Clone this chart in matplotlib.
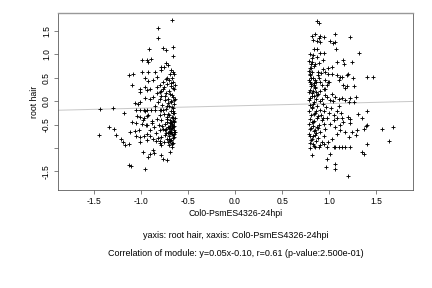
import matplotlib
matplotlib.use("Agg")
import matplotlib.pyplot as plt

plt.rcParams['font.family'] = ['Liberation Sans', 'DejaVu Sans']

# left cluster
left_x = [-0.67, -0.82, -0.82, -0.91, -0.76, -0.73, -0.66, -0.66, -0.99, -0.93, -0.89, -0.92,
          -0.73, -0.71, -0.78, -0.79, -0.75, -0.68, -0.66, -1.13, -1.08, -0.99, -0.92, -0.85,
          -0.96, -0.92, -0.87, -0.83, -1.09, -1.01, -1.01, -0.95, -0.93, -0.90, -0.83, -0.80,
          -0.76, -0.80, -0.83, -1.06, -1.03, -1.01, -0.95, -0.90, -0.87, -1.43, -1.29, -1.18,
          -1.05, -1.01, -0.97, -0.93, -0.89, -0.85, -0.80, -0.76, -1.04, -1.01, -0.97, -0.93,
          -1.09, -1.05, -0.99, -0.93, -0.88, -1.34, -1.28, -1.44, -1.26, -1.21, -1.19, -1.17,
          -1.13, -1.11, -1.06, -1.02, -1.05, -1.01, -0.97, -0.93, -1.01, -0.93, -0.90, -0.98,
          -0.90, -0.92, -0.87, -0.86, -1.13, -1.10, -0.95, -0.78, -0.76, -0.72, -0.69, -0.84,
          -0.80, -0.78, -0.69, -0.67,
          -0.65, -0.67, -0.70, -0.66, -0.72, -0.68, -0.75, -0.65, -0.70, -0.73, -0.67, -0.78,
          -0.66, -0.71, -0.74, -0.68, -0.65, -0.77, -0.70, -0.66, -0.73, -0.68, -0.65, -0.75,
          -0.70, -0.67, -0.72, -0.78, -0.66, -0.69, -0.74, -0.65, -0.71, -0.67, -0.76, -0.69,
          -0.65, -0.73, -0.67, -0.70, -0.78, -0.66, -0.72, -0.68, -0.75, -0.66, -0.70, -0.67,
          -0.80, -0.82, -0.85, -0.80, -0.83, -0.88, -0.81, -0.86, -0.80, -0.84, -0.90, -0.82,
          -0.87, -0.80, -0.94, -0.98, -0.92, -0.96, -0.64, -0.64, -0.64, -0.64, -0.69, -0.72,
          -0.76, -0.78, -0.79, -0.77, -0.74, -0.71, -0.68, -0.66, -0.69, -0.72, -0.74,
          -0.66, -0.68, -0.70, -0.65, -0.67, -0.71, -0.66, -0.69, -0.73, -0.65, -0.68, -0.70,
          -0.66, -0.72, -0.67, -0.65, -0.69, -0.71, -0.66, -0.68, -0.73, -0.65, -0.70, -0.67,
          -0.66, -0.69, -0.72, -0.65, -0.68, -0.70, -0.67, -0.74, -0.66, -0.71, -0.69, -0.65]
left_y = [1.73, 1.56, 1.34, 1.11, 1.13, 1.09, 1.16, 0.96, 0.88, 0.88, 0.91, 0.84,
          0.82, 0.78, 0.72, 0.67, 0.74, 0.67, 0.63, 0.56, 0.58, 0.63, 0.63, 0.63,
          0.49, 0.44, 0.45, 0.52, 0.34, 0.27, 0.20, 0.30, 0.24, 0.25, 0.30, 0.34,
          0.27, 0.20, 0.17, -0.04, -0.05, -0.01, 0.07, 0.05, 0.09, -0.17, -0.14, -0.26,
          -0.19, -0.19, -0.19, -0.19, -0.19, -0.19, -0.19, -0.19, -0.31, -0.33, -0.35, -0.31,
          -0.45, -0.47, -0.48, -0.50, -0.47, -0.56, -0.60, -0.73, -0.73, -0.80, -0.87, -0.94,
          -0.91, -0.66, -0.64, -0.62, -0.75, -0.76, -0.75, -0.71, -0.87, -0.84, -0.75, -1.09,
          -1.13, -1.19, -1.05, -1.11, -1.37, -1.39, -1.46, -1.16, -1.23, -1.26, -1.09, -0.86,
          -0.89, -0.94, -0.86, -0.90,
          0.58, 0.50, 0.45, 0.40, 0.36, 0.32, 0.30, 0.26, 0.22, 0.18, 0.14, 0.12,
          0.08, 0.05, 0.02, -0.02, -0.05, -0.08, -0.10, -0.14, -0.17, -0.22, -0.25, -0.28,
          -0.30, -0.34, -0.38, -0.40, -0.42, -0.46, -0.48, -0.52, -0.55, -0.58, -0.60, -0.63,
          -0.66, -0.68, -0.71, -0.74, -0.76, -0.78, -0.80, -0.84, -0.88, -0.90, -0.94, -0.98,
          0.05, -0.02, -0.10, -0.30, -0.38, -0.42, -0.50, -0.55, -0.62, -0.68, -0.62, -0.78,
          -0.80, -0.86, -0.50, -0.40, -0.30, -0.20, 0.35, -0.35, -0.65, 0.05, 0.58, 0.50,
          0.42, 0.22, -0.18, -0.52, -0.62, -0.88, 0.00, -0.20, -0.40, -0.10, 0.10,
          -0.36, -0.44, -0.57, -0.61, -0.48, -0.69, -0.73, -0.52, -0.59, -0.45, -0.66, -0.81,
          -0.26, -0.33, -0.12, 0.02, 0.16, -0.04, 0.28, 0.38, 0.47, -0.70, -0.65, -0.92,
          -0.55, -0.67, -0.44, -0.77, -0.60, -0.56, -0.50, -0.72, -0.37, -0.28, -0.83, -0.43]

# right cluster
right_x = [0.87, 0.89, 0.85, 0.82, 0.90, 0.94, 0.83, 0.87, 0.90, 0.89, 1.06, 1.22,
           1.01, 1.04, 1.06, 1.07, 1.32, 0.84, 0.87, 0.90, 0.94, 0.83, 0.82, 0.85,
           0.89, 1.03, 1.08, 1.15, 1.16, 1.24, 0.93, 0.96, 0.99, 1.03, 1.08, 1.14,
           1.19, 1.25, 1.20, 1.40, 1.47, 0.80, 0.79, 0.80, 0.81, 0.80, 0.84, 0.89,
           0.90, 0.92, 0.94, 0.96, 0.99, 0.98, 1.15, 1.19, 1.17, 1.26, 1.10, 1.12,
           0.80, 0.82, 0.84, 0.80, 0.86, 0.90, 0.96, 0.98, 1.03, 1.06, 1.01, 1.10,
           1.14, 1.17, 1.22, 1.21, 1.28, 1.26, 1.40, 1.31, 1.35, 1.40, 1.56, 1.68,
           1.63, 1.40, 1.35, 1.37, 0.98, 1.01, 1.06, 1.06, 0.97, 1.20, 0.82, 0.80,
           0.85, 0.90, 0.89, 0.94, 0.99, 1.05, 1.06, 1.10, 1.14, 1.17, 1.22, 1.29,
           1.24, 1.30, 1.37, 1.39, 1.21, 1.17, 1.12, 1.08, 1.20, 1.22, 1.22, 1.15,
           1.12, 1.06, 1.01, 1.05, 1.08, 1.14,
           0.80, 0.82, 0.79, 0.84, 0.80, 0.83, 0.79, 0.86, 0.81, 0.85, 0.79, 0.88,
           0.82, 0.79, 0.84, 0.80, 0.87, 0.82, 0.90, 0.79, 0.85, 0.81, 0.88, 0.80,
           0.84, 0.92, 0.79, 0.83, 0.87, 0.80, 0.85, 0.90, 0.79, 0.83, 0.88, 0.81,
           0.86, 0.80, 0.84, 0.93, 0.95, 0.97, 1.00, 0.94, 0.98, 0.96, 1.02, 0.92,
           0.96, 0.91, 0.87, 0.93, 0.99, 0.88, 0.82, 0.95, 0.92, 0.98, 1.03, 1.05,
           1.08, 1.10, 1.13, 1.04, 1.00, 0.86, 0.83, 0.80, 0.84, 0.81,
           0.81, 0.83, 0.85, 0.82, 0.84, 0.87, 0.81, 0.86, 0.83, 0.88, 0.82, 0.85,
           0.91, 0.84, 0.89, 0.81, 0.86, 0.93, 0.83, 0.87, 0.82, 0.90, 0.85, 0.88]
right_y = [1.72, 1.66, 1.43, 1.39, 1.39, 1.38, 1.31, 1.29, 1.27, 1.34, 1.43, 1.38,
           1.29, 1.24, 1.26, 1.11, 1.03, 1.11, 1.11, 1.02, 1.03, 0.98, 0.84, 0.80,
           0.82, 0.73, 0.84, 0.88, 0.79, 0.84, 0.68, 0.63, 0.59, 0.58, 0.56, 0.52,
           0.56, 0.49, 0.59, 0.52, 0.52, 0.70, 0.65, 0.59, 0.49, 0.42, 0.38, 0.49,
           0.41, 0.34, 0.27, 0.45, 0.41, 0.34, 0.34, 0.32, 0.29, 0.32, 0.45, 0.52,
           0.24, 0.17, 0.10, 0.06, 0.19, 0.21, 0.13, 0.08, 0.16, 0.09, 0.02, 0.04,
           0.06, 0.02, 0.06, -0.01, 0.08, -0.01, -0.21, -0.28, -0.35, -0.51, -0.59, -0.55,
           -0.86, -0.91, -1.09, -1.12, -1.23, -1.12, -1.34, -1.44, -1.41, -1.60, -1.16, -1.01,
           -0.98, -0.94, -0.99, -0.91, -0.87, -0.97, -0.97, -0.97, -0.97, -0.97, -0.97, -0.73,
           -0.66, -0.62, -0.59, -0.54, -0.76, -0.66, -0.62, -0.71, -0.34, -0.39, -0.46, -0.44,
           -0.51, -0.55, -0.48, -0.41, -0.37, -0.37,
           1.00, 0.92, 0.85, 0.75, 0.55, 0.50, 0.45, 0.42, 0.32, 0.28, 0.20, 0.15,
           0.12, 0.02, -0.02, -0.08, -0.10, -0.15, -0.18, -0.22, -0.25, -0.30, -0.32, -0.38,
           -0.42, -0.40, -0.48, -0.52, -0.55, -0.60, -0.62, -0.65, -0.70, -0.74, -0.78, -0.82,
           -0.85, -0.90, -0.95, -0.05, -0.22, -0.12, -0.25, -0.48, -0.35, -0.60, -0.15, 0.05,
           0.25, 0.60, 0.95, 0.88, 0.70, 0.55, 0.62, -0.75, -0.88, -0.98, -0.80, -0.30,
           -0.20, -0.10, -0.25, 0.00, 0.40, 0.05, -0.45, -0.75, 0.35, 0.70,
           0.36, 0.22, 0.46, -0.12, -0.28, -0.36, -0.57, -0.68, -0.05, 0.62, -0.44, 0.30,
           -0.30, -0.64, -0.50, 0.80, -0.20, -0.36, -0.92, 0.14, -0.80, 0.00, -0.72, -0.58]

# fitted line y = 0.05x - 0.10
slope = 0.05
intercept = -0.10

xticks = [-1.5, -1.0, -0.5, 0.0, 0.5, 1.0, 1.5]
yticks = [1.5, 1.0, 0.5, 0.0, -0.5, -1.0, -1.5]
ytick_labels = ['1.5', '1.0', '0.5', '0.0', '-0.5', '', '-1.5']

fig = plt.figure(figsize=(6, 4), dpi=72)
ax = fig.add_axes([0.134, 0.340, 0.822, 0.615])

ax.axline((0, intercept), slope=slope, color='#c8c8c8', linewidth=1.0, zorder=1)
ax.plot(left_x, left_y, linestyle='none', marker='+', color='black',
        markersize=4.8, markeredgewidth=0.9, zorder=2)
ax.plot(right_x, right_y, linestyle='none', marker='+', color='black',
        markersize=4.8, markeredgewidth=0.9, zorder=2)

ax.set_xlim(-1.88, 1.89)
ax.set_ylim(-1.9, 1.885)
ax.set_xticks(xticks)
ax.set_xticklabels([f'{v:.1f}' for v in xticks])
ax.set_yticks(yticks)
ax.set_yticklabels(ytick_labels, rotation=90, va='center')
ax.tick_params(direction='out', length=4, width=0.6, labelsize=8.5, colors='#333333',
               labelcolor='black', pad=3)

for side, spine in ax.spines.items():
    spine.set_color('#555555')
    spine.set_linewidth(0.8)
ax.spines['top'].set_color('#999999')
ax.spines['top'].set_linewidth(1.4)

ax.set_xlabel('Col0-PsmES4326-24hpi', fontsize=8.8, labelpad=3)
ax.set_ylabel('root hair', fontsize=8.8, labelpad=3)

# centred under the plot region
cx = 0.134 + 0.822 / 2
fig.text(cx, 1 - 235 / 288, 'yaxis: root hair, xaxis: Col0-PsmES4326-24hpi',
         ha='center', va='center', fontsize=9)
fig.text(cx, 1 - 254 / 288,
         'Correlation of module: y=0.05x-0.10, r=0.61 (p-value:2.500e-01)',
         ha='center', va='center', fontsize=9)

fig.savefig('out.png', dpi=72)
